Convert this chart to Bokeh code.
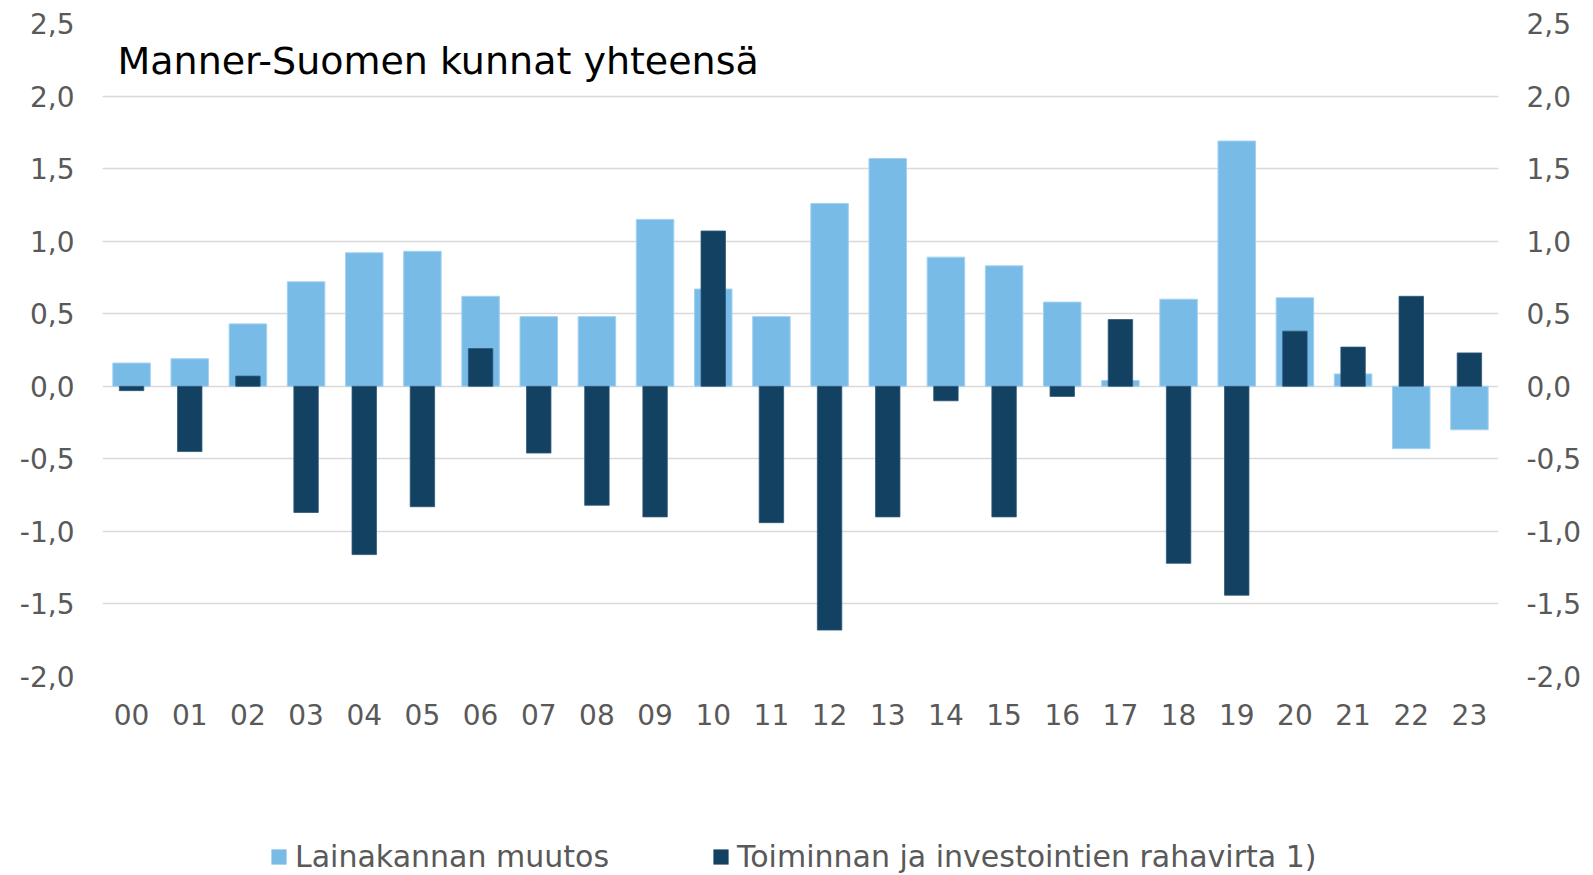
from bokeh.plotting import figure
from bokeh.layouts import column
from bokeh.models import (FactorRange, Range1d, LinearAxis, FixedTicker, Label,
                          Legend, LegendItem, ColumnDataSource)
from bokeh.embed import file_html
from bokeh.resources import INLINE

# ---- data ----
years = ["00", "01", "02", "03", "04", "05", "06", "07", "08", "09", "10", "11",
         "12", "13", "14", "15", "16", "17", "18", "19", "20", "21", "22", "23"]
lainakanta = [0.16, 0.19, 0.43, 0.72, 0.92, 0.93, 0.62, 0.48, 0.48, 1.15, 0.67, 0.48,
              1.26, 1.57, 0.89, 0.83, 0.58, 0.04, 0.60, 1.69, 0.61, 0.085, -0.43, -0.30]
rahavirta = [-0.03, -0.45, 0.07, -0.87, -1.16, -0.83, 0.26, -0.46, -0.82, -0.90, 1.07, -0.94,
             -1.68, -0.90, -0.10, -0.90, -0.07, 0.46, -1.22, -1.44, 0.38, 0.27, 0.62, 0.23]
tick_values = [-2.0, -1.5, -1.0, -0.5, 0.0, 0.5, 1.0, 1.5, 2.0, 2.5]
tick_labels = ["-2,0", "-1,5", "-1,0", "-0,5", "0,0", "0,5", "1,0", "1,5", "2,0", "2,5"]
series_names = ["Lainakannan muutos", "Toiminnan ja investointien rahavirta 1)"]
title_text = "Manner-Suomen kunnat yhteensä"

LIGHT = "#78BBE7"
DARK = "#124162"
GRAY = "#595959"
FONT = "DejaVu Sans"
LIGHT_EDGE = "#a3d2f1"
DARK_EDGE = "#2f5878"

src = ColumnDataSource(dict(x=years, a=lainakanta, b=rahavirta))

# ---- main chart ----
p = figure(width=1593, height=760, x_range=FactorRange(*years),
           y_range=Range1d(-2.0, 2.5), output_backend="svg", toolbar_location=None,
           min_border_left=102, min_border_right=95, min_border_top=23,
           min_border_bottom=84)
p.outline_line_color = None
p.background_fill_color = "white"
p.border_fill_color = "white"

r1 = p.vbar(x="x", top="a", bottom=0, width=0.645, source=src,
            fill_color=LIGHT, line_color=LIGHT_EDGE, line_width=1)
r2 = p.vbar(x="x", top="b", bottom=0, width=0.42, source=src,
            fill_color=DARK, line_color=DARK_EDGE, line_width=0.8)

overrides = {v: l for v, l in zip(tick_values, tick_labels)}

def style_y(ax):
    ax.ticker = FixedTicker(ticks=tick_values)
    ax.major_label_overrides = overrides
    ax.axis_line_color = None
    ax.major_tick_line_color = None
    ax.minor_tick_line_color = None
    ax.major_tick_in = 0
    ax.major_tick_out = 0
    ax.major_label_standoff = 28
    ax.major_label_text_font = FONT
    ax.major_label_text_font_size = "28px"
    ax.major_label_text_color = GRAY

style_y(p.yaxis[0])
right = LinearAxis()
style_y(right)
p.add_layout(right, "right")

xa = p.xaxis[0]
xa.axis_line_color = None
xa.major_tick_line_color = None
xa.minor_tick_line_color = None
xa.major_tick_in = 0
xa.major_tick_out = 0
xa.major_label_standoff = 27
xa.major_label_text_font = FONT
xa.major_label_text_font_size = "28px"
xa.major_label_text_color = GRAY

p.xgrid.grid_line_color = None
p.ygrid.ticker = FixedTicker(ticks=tick_values)
p.ygrid.grid_line_color = "#d9d9d9"
p.ygrid.grid_line_width = 1.5

title = Label(x=15, y=616, x_units="screen", y_units="screen", text=title_text,
              text_font=FONT, text_font_size="38px", text_color="#000000",
              text_baseline="alphabetic", text_align="left")
p.add_layout(title)

# ---- legend strip ----
q = figure(width=1593, height=115, x_range=Range1d(0, 10), y_range=Range1d(0, 10),
           output_backend="svg", toolbar_location=None,
           min_border_left=0, min_border_right=0, min_border_top=0, min_border_bottom=0)
q.axis.visible = False
q.grid.visible = False
q.outline_line_color = None
q.border_fill_color = "white"
# legend proxies placed outside the visible range
d1 = q.vbar(x=[-50], top=[-50], bottom=[-51], width=1,
            fill_color=LIGHT, line_color=None)
d2 = q.vbar(x=[-50], top=[-50], bottom=[-51], width=1,
            fill_color=DARK, line_color=None)

for name, r, xloc in [(series_names[0], d1, 167), (series_names[1], d2, 609)]:
    lg = Legend(items=[LegendItem(label=name, renderers=[r])], location=(xloc, 1),
                orientation="horizontal", padding=0, margin=0, spacing=0,
                glyph_width=19, glyph_height=19, label_standoff=7, label_height=19,
                label_text_font=FONT, label_text_font_size="30px",
                label_text_color=GRAY, label_text_baseline="middle",
                border_line_color=None, background_fill_alpha=0)
    q.add_layout(lg)

layout = column(p, q, spacing=0)
open("out.html", "w").write(file_html(layout, INLINE))
